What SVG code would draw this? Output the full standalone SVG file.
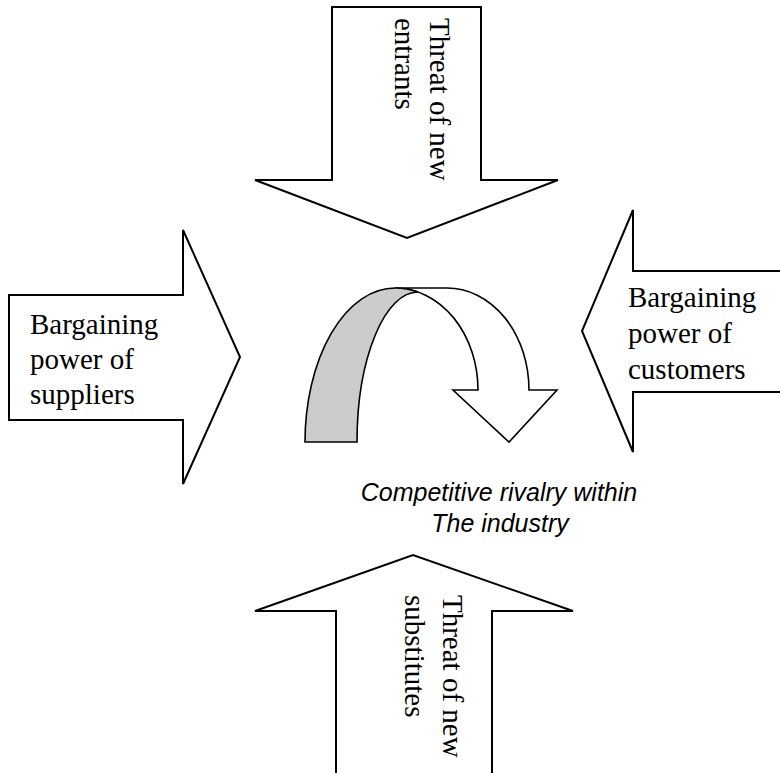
<svg xmlns="http://www.w3.org/2000/svg" width="780" height="773" viewBox="0 0 780 773">
<style>
.arrow{fill:#fff;stroke:#000;stroke-width:2;stroke-linejoin:miter}
.lbl{font-family:"Liberation Serif","Times New Roman",serif;font-size:29px;fill:#000}
.cap{font-family:"Liberation Sans",Arial,sans-serif;font-size:25px;font-style:italic;fill:#000}
.curve{stroke:#000;stroke-width:1.6;stroke-linejoin:miter}
</style>
<rect width="780" height="773" fill="#fff"/>
<g id="entrants">
<path class="arrow" d="M332,7 L481,7 L481,180 L558,180 L407,238 L255,180 L332,180 Z"/>
<text class="lbl" transform="translate(430,18) rotate(90)">Threat of new</text>
<text class="lbl" transform="translate(395,18) rotate(90)">entrants</text>
</g>
<g id="suppliers">
<path class="arrow" d="M9,295 L183,295 L183,230 L240,357 L183,484 L183,420 L9,420 Z"/>
<text class="lbl" x="30" y="334">Bargaining</text>
<text class="lbl" x="30" y="369">power of</text>
<text class="lbl" x="30" y="404">suppliers</text>
</g>
<g id="customers">
<path class="arrow" d="M790,271 L633,271 L633,210 L582,331 L633,452 L633,392 L790,392 Z"/>
<text class="lbl" x="628" y="307">Bargaining</text>
<text class="lbl" x="628" y="343">power of</text>
<text class="lbl" x="628" y="379">customers</text>
</g>
<g id="substitutes">
<path class="arrow" d="M336,790 L336,611 L255,611 L413,555 L573,611 L492,611 L492,790 Z"/>
<text class="lbl" transform="translate(443,595) rotate(90)">Threat of new</text>
<text class="lbl" transform="translate(405,595) rotate(90)">substitutes</text>
</g>
<g id="rivalry">
<path class="curve" fill="#fff" d="M395,288 L447,288 A82,102 0 0 1 529,390 L557,390 L509,442 L453,390 L478,390 A83,102 0 0 0 395,288 Z"/>
<path class="curve" fill="#cccccc" d="M305,442 A90,154 0 0 1 395,288 A83,102 0 0 1 418,292 A61,150 0 0 0 357,442 Z"/>
<text class="cap" x="499" y="501" text-anchor="middle">Competitive rivalry within</text>
<text class="cap" x="500" y="532" text-anchor="middle">The industry</text>
</g>
<g id="connectors"/>
</svg>
